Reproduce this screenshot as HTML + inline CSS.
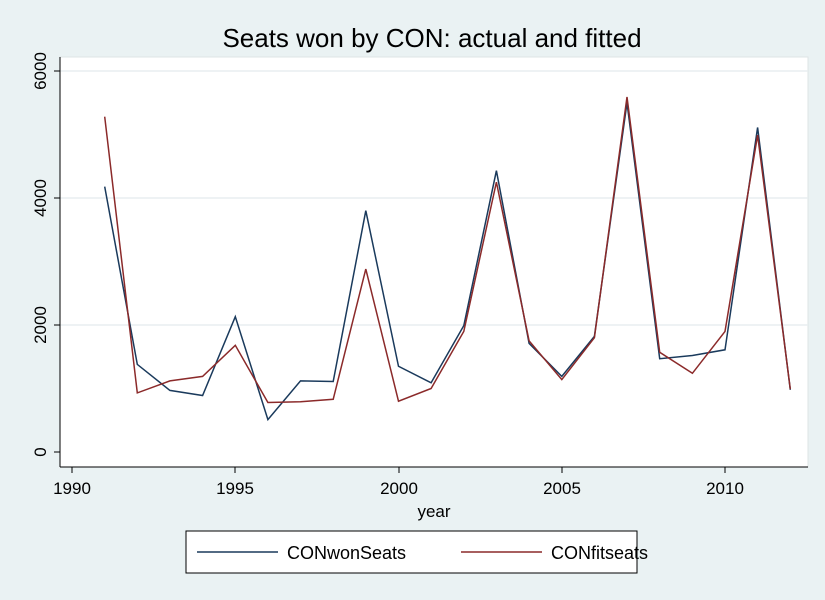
<!DOCTYPE html>
<html><head><style>
body{margin:0;width:825px;height:600px;background:#eaf2f3;overflow:hidden}
svg{display:block}
text{font-family:"Liberation Sans",Arial,sans-serif;fill:#000}
</style></head><body>
<svg width="825" height="600" xmlns="http://www.w3.org/2000/svg">
<rect x="0" y="0" width="825" height="600" fill="#eaf2f3"/>
<rect x="60" y="57" width="748" height="410" fill="#fff" stroke="#dde4e6"/>
<g stroke="#e8eef0" stroke-width="1.5">
<line x1="60" x2="808" y1="71" y2="71"/>
<line x1="60" x2="808" y1="198" y2="198"/>
<line x1="60" x2="808" y1="325" y2="325"/>
</g>
<g stroke="#000" stroke-width="1">
<line x1="60" x2="60" y1="57" y2="467"/>
<line x1="60" x2="808" y1="467" y2="467"/>
<line x1="54" x2="60" y1="71" y2="71"/>
<line x1="54" x2="60" y1="198" y2="198"/>
<line x1="54" x2="60" y1="325" y2="325"/>
<line x1="54" x2="60" y1="452" y2="452"/>
<line x1="72" x2="72" y1="467" y2="473"/>
<line x1="235" x2="235" y1="467" y2="473"/>
<line x1="399" x2="399" y1="467" y2="473"/>
<line x1="562" x2="562" y1="467" y2="473"/>
<line x1="725" x2="725" y1="467" y2="473"/>
</g>
<g font-size="17" text-anchor="middle">
<text transform="translate(46,71) rotate(-90)">6000</text>
<text transform="translate(46,198) rotate(-90)">4000</text>
<text transform="translate(46,325) rotate(-90)">2000</text>
<text transform="translate(46,452) rotate(-90)">0</text>
<text x="72" y="494">1990</text>
<text x="235" y="494">1995</text>
<text x="399" y="494">2000</text>
<text x="562" y="494">2005</text>
<text x="725" y="494">2010</text>
<text x="434" y="517">year</text>
</g>
<text x="432" y="47" font-size="26" text-anchor="middle" fill="#1a2a3a">Seats won by CON: actual and fitted</text>
<polyline id="b" fill="none" stroke="#1a3a5c" stroke-width="1.5"/>
<polyline id="r" fill="none" stroke="#8b2a2a" stroke-width="1.5"/>
<rect x="186" y="531" width="451" height="42" fill="#fff" stroke="#000"/>
<line x1="197" x2="278" y1="552" y2="552" stroke="#1a3a5c" stroke-width="1.5"/>
<line x1="461" x2="542" y1="552" y2="552" stroke="#8b2a2a" stroke-width="1.5"/>
<text x="287" y="559" font-size="18">CONwonSeats</text>
<text x="551" y="559" font-size="18">CONfitseats</text>
</svg>
<script>
var b=[4180,1380,970,890,2130,510,1120,1110,3800,1350,1090,1990,4430,1710,1190,1820,5500,1470,1520,1610,5110,980];
var r=[5280,930,1120,1190,1680,780,790,830,2880,800,1000,1900,4250,1750,1140,1800,5590,1570,1240,1900,4990,990];
function pts(a){return a.map(function(v,i){return (72+32.65*(i+1)).toFixed(1)+","+(452-v*0.0635).toFixed(1)}).join(" ")}
document.getElementById("b").setAttribute("points",pts(b));
document.getElementById("r").setAttribute("points",pts(r));
</script>
</body></html>
